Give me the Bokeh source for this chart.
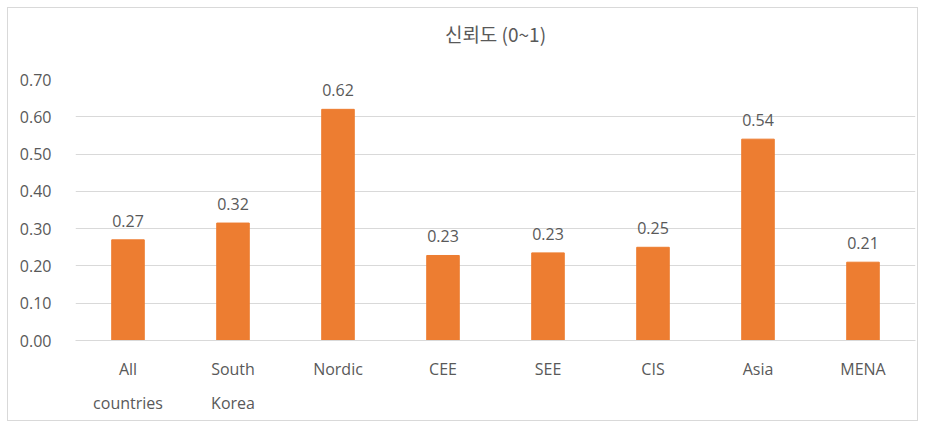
from bokeh.plotting import figure
from bokeh.models import ColumnDataSource, FixedTicker, NumeralTickFormatter, Title
from bokeh.core.properties import value
from bokeh.embed import file_html
from bokeh.resources import INLINE

categories = ["All\ncountries", "South\nKorea", "Nordic", "CEE", "SEE", "CIS", "Asia", "MENA"]
values = [0.27, 0.315, 0.62, 0.228, 0.235, 0.25, 0.54, 0.21]
labels = ["0.27", "0.32", "0.62", "0.23", "0.23", "0.25", "0.54", "0.21"]
y_ticks = [0.0, 0.1, 0.2, 0.3, 0.4, 0.5, 0.6, 0.7]
title_text = "신뢰도 (0~1)"

ORANGE = "#ED7D31"
GRAY = "#595959"
FONT = "Open Sans"

src = ColumnDataSource(dict(cat=categories, val=values, lab=labels))

p = figure(x_range=categories, y_range=(0, 0.7), width=911, height=414, title=None,
           output_backend="svg", toolbar_location=None, tools="",
           min_border_left=67, min_border_right=4, min_border_top=71, min_border_bottom=82)

# spacer nearest the plot area, then the visible title above it
p.add_layout(Title(text=" ", text_font_size="1px", standoff=30), "above")
p.add_layout(Title(text=title_text, align="center", text_font="Noto Sans CJK KR",
                   text_font_size="19px", text_color=GRAY, text_font_style="normal",
                   standoff=0), "above")

p.vbar(x="cat", top="val", width=0.31, color=ORANGE, source=src)
p.text(x="cat", y="val", text="lab", source=src, text_align="center", text_baseline="bottom",
       y_offset=-13, text_font=value(FONT), text_font_size="16px", text_color=GRAY)

p.outline_line_color = None
p.xgrid.grid_line_color = None
p.ygrid.grid_line_color = "#d9d9d9"
p.ygrid.grid_line_width = 1
p.ygrid.ticker = FixedTicker(ticks=y_ticks)

p.yaxis.ticker = FixedTicker(ticks=y_ticks)
p.yaxis.formatter = NumeralTickFormatter(format="0.00")
p.yaxis.axis_line_color = None
p.yaxis.major_tick_line_color = None
p.yaxis.minor_tick_line_color = None
p.yaxis.major_label_standoff = 18
p.yaxis.major_label_text_font = FONT
p.yaxis.major_label_text_font_size = "16px"
p.yaxis.major_label_text_color = GRAY

xa = p.xaxis[0]
xa.axis_line_color = "#d9d9d9"
xa.major_tick_line_color = None
xa.major_label_standoff = 11
xa.major_label_text_font = FONT
xa.major_label_text_font_size = "16px"
xa.major_label_text_color = GRAY
xa.major_label_text_line_height = 1.55

p.styles = {"border": "1px solid #d9d9d9", "margin-left": "7px", "margin-top": "7px"}

open("out.html", "w").write(file_html(p, INLINE))
